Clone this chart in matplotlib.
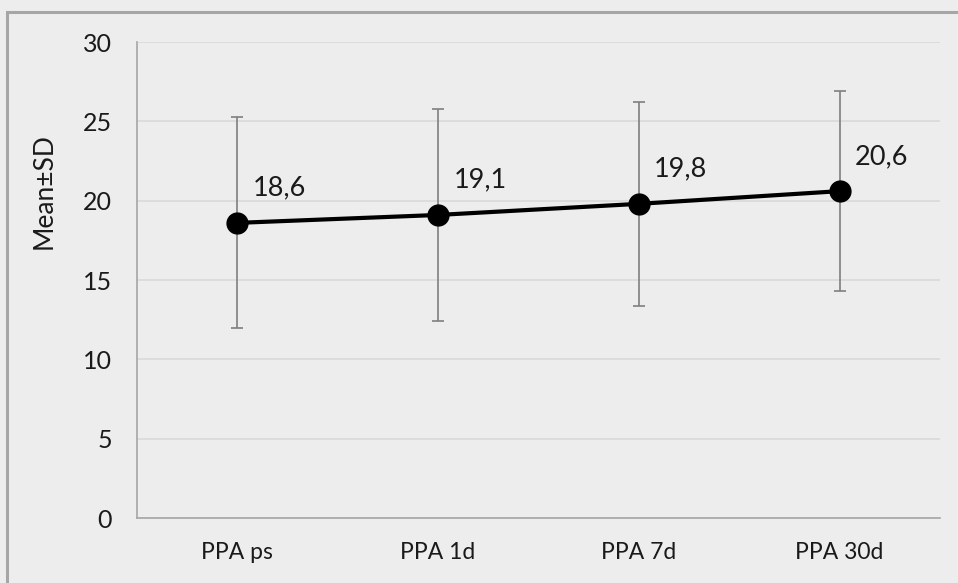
import matplotlib
matplotlib.use("Agg")
import matplotlib.pyplot as plt
from matplotlib.patches import Rectangle

categories = ["PPA ps", "PPA 1d", "PPA 7d", "PPA 30d"]
means = [18.6, 19.1, 19.8, 20.6]
sds = [6.65, 6.7, 6.45, 6.3]
labels = ["18,6", "19,1", "19,8", "20,6"]
yticks = [0, 5, 10, 15, 20, 25, 30]

plt.rcParams['font.family'] = ['Lato', 'DejaVu Sans']

bg = "#EDEDED"
fig = plt.figure(figsize=(9.58, 5.83), dpi=100, facecolor=bg)
ax = fig.add_axes([137/958, 1-518/583, (940-137)/958, (518-42)/583])
ax.set_facecolor(bg)

x = list(range(len(categories)))
ax.errorbar(x, means, yerr=sds, fmt='none', ecolor="#7F7F7F", elinewidth=1.2,
            capsize=4.5, capthick=1.2, zorder=2)
ax.plot(x, means, color="black", linewidth=3, marker='o', markersize=15, zorder=3)

for xi, m, lab in zip(x, means, labels):
    ax.annotate(lab, (xi, m), xytext=(11, 25), textcoords='offset points',
                fontsize=19.5, color="#1a1a1a", ha='left', va='center')

ax.set_xlim(-0.5, len(categories) - 0.5)
ax.set_ylim(0, 30)
ax.set_yticks(yticks)
ax.set_xticks(x)
ax.set_xticklabels(categories)
ax.tick_params(axis='y', length=0, labelsize=18, colors="#1a1a1a", pad=18)
ax.tick_params(axis='x', length=0, labelsize=16.5, colors="#1a1a1a", pad=17)
ax.grid(axis='y', color="#D9D9D9", linewidth=1.2)
ax.set_axisbelow(True)
for s in ['top', 'right']:
    ax.spines[s].set_visible(False)
for s in ['left', 'bottom']:
    ax.spines[s].set_color("#A6A6A6")
    ax.spines[s].set_linewidth(1.2)

ax.set_ylabel("Mean±SD", fontsize=19, color="#1a1a1a")
ax.yaxis.set_label_coords((57-137)/803, (518-191)/476)

fig.patches.append(Rectangle((7/958, -0.05), 1.1, 1-12/583 + 0.05,
                             transform=fig.transFigure, fill=False,
                             edgecolor="#A6A6A6", linewidth=2.2, zorder=10))

fig.savefig("out.png", dpi=100, facecolor=bg)
